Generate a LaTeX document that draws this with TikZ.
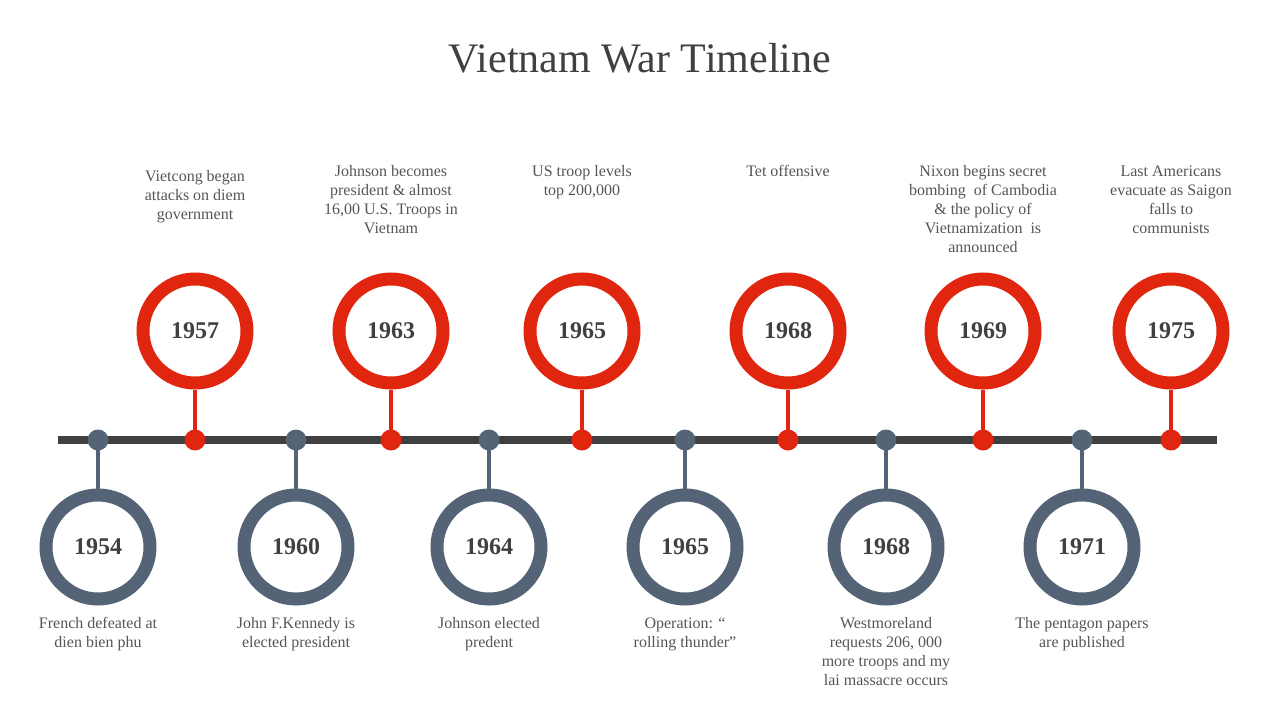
\documentclass[tikz,border=0pt]{standalone}
\usepackage{fontspec}
\setmainfont{Liberation Serif}
\definecolor{rd}{HTML}{E0260E}
\definecolor{gy}{HTML}{546476}
\definecolor{ln}{HTML}{404040}
\definecolor{tx}{HTML}{555555}
\begin{document}
\begin{tikzpicture}[x=1pt,y=-1pt,
 ring/.style={circle,draw=#1,line width=13pt,minimum size=104pt,fill=white,inner sep=0pt,font=\fontsize{24}{24}\selectfont\bfseries,text=ln},
 dot/.style={circle,fill=#1,minimum size=21pt,inner sep=0pt},
 desc/.style={align=center,text=tx,font=\fontsize{16}{19}\selectfont}]
\useasboundingbox (0,0) rectangle (1280,720);
\node[text=ln,font=\fontsize{42}{42}\selectfont] (title) at (640,58) {Vietnam War Timeline};
\coordinate (L) at (58,440); \coordinate (R) at (1217,440);
\draw[ln,line width=8pt] (L) -- (R);
\foreach \n/\x/\y/\t/\yy in {a/195/1957/{Vietcong began\\attacks on diem\\government}/177,
 b/391/1963/{Johnson becomes\\president \& almost\\16,00 U.S. Troops in\\Vietnam}/172,
 c/582/1965/{US troop levels\\top 200,000}/172,
 d/788/1968/{Tet offensive}/172,
 e/983/1969/{Nixon begins secret\\bombing \ of Cambodia\\\& the policy of\\Vietnamization \ is\\announced}/172,
 f/1171/1975/{Last Americans\\evacuate as Saigon\\falls to\\communists}/172}{
 \node[dot=rd] (d\n) at (\x,440) {};
 \node[ring=rd] (r\n) at (\x,331) {\y};
 \draw[rd,line width=4pt] (r\n.south) -- (d\n.center);
 \node[desc,anchor=north] (t\n) at (\x,\yy-10) {\t};
}
\foreach \n/\x/\y/\t in {g/98/1954/{French defeated at\\dien bien phu},
 h/296/1960/{John F.Kennedy is\\elected president},
 i/489/1964/{Johnson elected\\predent},
 j/685/1965/{Operation: “\\rolling thunder”},
 k/886/1968/{Westmoreland\\requests 206, 000\\more troops and my\\lai massacre occurs},
 l/1082/1971/{The pentagon papers\\are published}}{
 \node[dot=gy] (d\n) at (\x,440) {};
 \node[ring=gy] (r\n) at (\x,547) {\y};
 \draw[gy,line width=4pt] (d\n.center) -- (r\n.north);
 \node[desc,anchor=north] (t\n) at (\x,614) {\t};
}
\end{tikzpicture}
\end{document}
